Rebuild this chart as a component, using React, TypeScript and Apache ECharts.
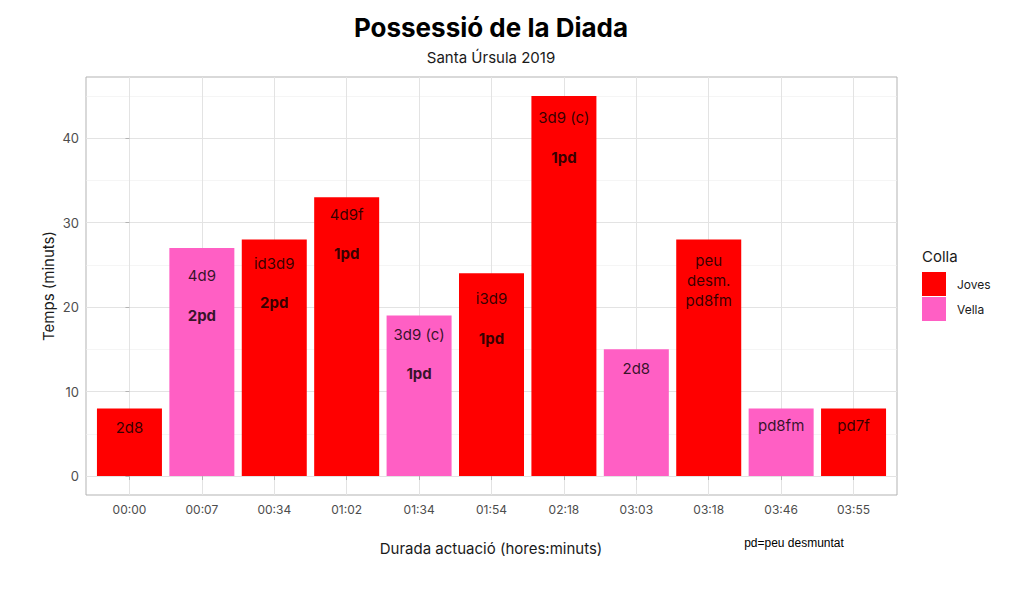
import React, { useEffect, useRef } from "react";
import * as echarts from "echarts";

const categories = ["00:00", "00:07", "00:34", "01:02", "01:34", "01:54", "02:18", "03:03", "03:18", "03:46", "03:55"];
const values = [8, 27, 28, 33, 19, 24, 45, 15, 28, 8, 8];
const colla = ["Joves", "Vella", "Joves", "Joves", "Vella", "Joves", "Joves", "Vella", "Joves", "Vella", "Joves"];
const castells = ["2d8", "4d9", "id3d9", "4d9f", "3d9 (c)", "i3d9", "3d9 (c)", "2d8", "peu\ndesm.\npd8fm", "pd8fm", "pd7f"];
const castellY = [5.8, 23.7, 25.2, 31.0, 16.8, 21.0, 42.4, 12.7, 23.2, 6.0, 6.0];
const pdLabels = ["", "2pd", "2pd", "1pd", "1pd", "1pd", "1pd", "", "", "", ""];
const pdY = [null, 19.0, 20.5, 26.3, 12.1, 16.3, 37.7, null, null, null, null];
const yTicks = [0, 10, 20, 30, 40];
const yMinorTicks = [5, 15, 25, 35, 45];
const collaNames = ["Joves", "Vella"];
const collaColors = ["#FF0000", "#FF5FC4"];

const FONT = "Inter, 'Noto Sans', sans-serif";

export default function App() {
  const ref = useRef<HTMLDivElement>(null);
  useEffect(() => {
    document.body.style.margin = "0";
    if (!ref.current) return;
    const chart = echarts.init(ref.current, null, { renderer: "svg" });
    const xIdx = categories.map((_, i) => i);

    const barSeries = collaNames.map((name, k) => ({
      name,
      type: "bar",
      barWidth: 65,
      barGap: "-100%",
      itemStyle: { color: collaColors[k] },
      data: values
        .map((v, i) => (colla[i] === name ? [i, v] : null))
        .filter((d) => d !== null),
    }));

    chart.setOption({
      animation: false,
      textStyle: { fontFamily: FONT },
      grid: {
        left: 86,
        top: 77,
        width: 811,
        height: 418,
        show: true,
        borderColor: "#b3b3b3",
        borderWidth: 1,
        containLabel: false,
      },
      legend: {
        data: collaNames,
        orient: "vertical",
        left: 922,
        top: 272,
        padding: 0,
        itemWidth: 24,
        itemHeight: 24,
        itemGap: 1,
        icon: "rect",
        selectedMode: false,
        textStyle: { fontSize: 12, color: "#1a1a1a", fontFamily: FONT, padding: [0, 0, 0, 6] },
      },
      xAxis: {
        type: "value",
        min: -0.6,
        max: 10.6,
        axisLine: { show: false },
        axisTick: {
          show: true,
          customValues: xIdx,
          length: 4,
          lineStyle: { color: "#b3b3b3" },
        },
        axisLabel: {
          customValues: xIdx,
          formatter: (v: number) => categories[Math.round(v)] ?? "",
          color: "#4d4d4d",
          fontSize: 12,
          margin: 8,
          fontFamily: FONT,
        },
        splitLine: { show: true, lineStyle: { color: "#e3e3e3", width: 1 } },
      },
      yAxis: [
        {
          type: "value",
          min: -2.25,
          max: 47.25,
          axisLine: { show: false },
          axisTick: {
            show: true,
            customValues: yTicks,
            length: 4,
            lineStyle: { color: "#b3b3b3" },
          },
          axisLabel: {
            customValues: yTicks,
            color: "#4d4d4d",
            fontSize: 13,
            margin: 7,
            fontFamily: FONT,
          },
          splitLine: { show: true, lineStyle: { color: "#e3e3e3", width: 1 } },
        },
        {
          type: "value",
          min: -2.25,
          max: 47.25,
          position: "left",
          axisLine: { show: false },
          axisTick: { show: false, customValues: yMinorTicks },
          axisLabel: { show: false, customValues: yMinorTicks },
          splitLine: { show: true, lineStyle: { color: "#efefef", width: 0.6 } },
        },
      ],
      series: [
        ...barSeries,
        {
          type: "scatter",
          symbolSize: 1,
          itemStyle: { color: "rgba(0,0,0,0)" },
          silent: true,
          z: 5,
          data: castellY.map((y, i) => [i, y]),
          label: {
            show: true,
            position: "inside",
            formatter: (p: any) => castells[p.dataIndex],
            color: "#000",
            fontSize: 15,
            lineHeight: 20,
            fontFamily: FONT,
          },
        },
        {
          type: "scatter",
          symbolSize: 1,
          itemStyle: { color: "rgba(0,0,0,0)" },
          silent: true,
          z: 5,
          data: pdY
            .map((y, i) => (y === null ? null : [i, y, pdLabels[i]]))
            .filter((d) => d !== null),
          label: {
            show: true,
            position: "inside",
            formatter: (p: any) => p.data[2],
            color: "#000",
            fontSize: 15,
            fontWeight: "bold",
            fontFamily: FONT,
          },
        },
      ],
      graphic: [
        {
          type: "text",
          x: 491,
          y: 27,
          style: {
            text: "Possessió de la Diada",
            font: `bold 26px ${FONT}`,
            fill: "#000",
            textAlign: "center",
            textVerticalAlign: "middle",
          },
        },
        {
          type: "text",
          x: 491,
          y: 57,
          style: {
            text: "Santa Úrsula 2019",
            font: `15px ${FONT}`,
            fill: "#1a1a1a",
            textAlign: "center",
            textVerticalAlign: "middle",
          },
        },
        {
          type: "text",
          x: 48,
          y: 286,
          rotation: Math.PI / 2,
          style: {
            text: "Temps (minuts)",
            font: `15px ${FONT}`,
            fill: "#1a1a1a",
            textAlign: "center",
            textVerticalAlign: "middle",
          },
        },
        {
          type: "text",
          x: 491,
          y: 548,
          style: {
            text: "Durada actuació (hores:minuts)",
            font: `15px ${FONT}`,
            fill: "#1a1a1a",
            textAlign: "center",
            textVerticalAlign: "middle",
          },
        },
        {
          type: "text",
          x: 794,
          y: 543,
          style: {
            text: "pd=peu desmuntat",
            font: `12px 'Liberation Sans', Arial, sans-serif`,
            fill: "#000",
            textAlign: "center",
            textVerticalAlign: "middle",
          },
        },
        {
          type: "text",
          x: 922,
          y: 256,
          style: {
            text: "Colla",
            font: `15px ${FONT}`,
            fill: "#1a1a1a",
            textAlign: "left",
            textVerticalAlign: "middle",
          },
        },
      ],
    });
    return () => chart.dispose();
  }, []);
  return (
    <div
      ref={ref}
      style={{ position: "absolute", left: 0, top: 0, width: 1024, height: 598 }}
    />
  );
}
